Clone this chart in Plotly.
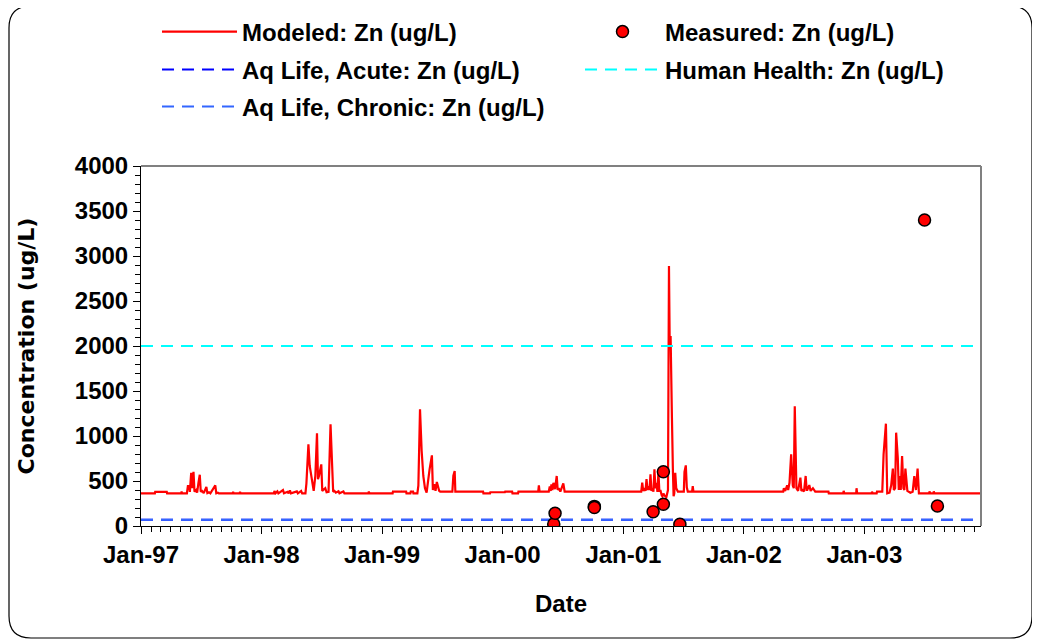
import plotly.graph_objects as go

# ---------------- data ----------------
modeled_points = [
    ("1997-01-01", 363),
    ("1997-02-12", 363), ("1997-02-13", 380), ("1997-03-20", 380), ("1997-03-21", 363),
    ("1997-05-03", 363), ("1997-05-04", 385), ("1997-05-05", 363),
    ("1997-05-20", 363), ("1997-05-23", 444), ("1997-05-27", 444), ("1997-05-29", 380),
    ("1997-06-02", 592), ("1997-06-05", 420), ("1997-06-09", 603), ("1997-06-12", 380),
    ("1997-06-17", 400), ("1997-06-20", 370), ("1997-06-24", 480), ("1997-06-28", 570),
    ("1997-07-01", 380), ("1997-07-05", 390), ("1997-07-10", 365), ("1997-07-18", 433),
    ("1997-07-21", 365), ("1997-07-26", 375), ("1997-07-30", 363), ("1997-08-14", 452),
    ("1997-08-17", 363), ("1997-08-22", 370), ("1997-08-25", 363),
    ("1997-10-06", 363), ("1997-10-07", 382), ("1997-10-08", 363),
    ("1997-10-27", 363), ("1997-10-28", 382), ("1997-10-29", 363),
    ("1998-02-08", 363), ("1998-02-09", 390), ("1998-02-12", 363), ("1998-02-18", 385),
    ("1998-02-21", 363), ("1998-03-07", 400), ("1998-03-10", 363), ("1998-03-21", 380),
    ("1998-03-24", 363), ("1998-03-28", 395), ("1998-03-31", 363), ("1998-04-18", 385),
    ("1998-04-21", 363), ("1998-05-01", 390), ("1998-05-04", 363),
    ("1998-05-14", 363), ("1998-05-17", 474), ("1998-05-23", 907), ("1998-05-27", 667),
    ("1998-06-01", 537), ("1998-06-05", 420), ("1998-06-08", 390), ("1998-06-13", 556),
    ("1998-06-18", 1030), ("1998-06-21", 520), ("1998-06-24", 556), ("1998-07-01", 685),
    ("1998-07-04", 390), ("1998-07-07", 400), ("1998-07-13", 420), ("1998-07-17", 375),
    ("1998-07-23", 380), ("1998-07-29", 1130), ("1998-08-03", 511), ("1998-08-06", 380),
    ("1998-08-10", 390), ("1998-08-14", 370), ("1998-08-22", 385), ("1998-08-25", 363),
    ("1998-09-06", 383), ("1998-09-09", 363),
    ("1998-11-21", 363), ("1998-11-22", 383), ("1998-11-24", 363),
    ("1999-02-02", 363), ("1999-02-03", 383), ("1999-03-15", 383), ("1999-03-16", 363),
    ("1999-03-28", 363), ("1999-03-29", 383), ("1999-04-05", 383), ("1999-04-06", 363),
    ("1999-04-18", 363), ("1999-04-21", 448), ("1999-04-26", 1297), ("1999-05-01", 833),
    ("1999-05-06", 556), ("1999-05-11", 420), ("1999-05-16", 370), ("1999-05-25", 630),
    ("1999-06-01", 785), ("1999-06-04", 400), ("1999-06-08", 463), ("1999-06-12", 390),
    ("1999-06-16", 489), ("1999-06-23", 390), ("1999-06-26", 383),
    ("1999-08-02", 383), ("1999-08-05", 560), ("1999-08-09", 611), ("1999-08-11", 383),
    ("1999-11-03", 383), ("1999-11-04", 363), ("1999-11-24", 363), ("1999-11-25", 375),
    ("2000-01-08", 375), ("2000-01-09", 383), ("2000-01-30", 383), ("2000-01-31", 363),
    ("2000-02-17", 363), ("2000-02-18", 383),
    ("2000-04-18", 383), ("2000-04-20", 452), ("2000-04-22", 383),
    ("2000-05-20", 383), ("2000-05-23", 440), ("2000-05-26", 390), ("2000-05-28", 463),
    ("2000-05-31", 400), ("2000-06-03", 480), ("2000-06-08", 410), ("2000-06-13", 556),
    ("2000-06-16", 400), ("2000-06-19", 420), ("2000-06-24", 383), ("2000-07-03", 474),
    ("2000-07-07", 383),
    ("2001-02-24", 383), ("2001-02-27", 481), ("2001-03-02", 390), ("2001-03-06", 420),
    ("2001-03-09", 390), ("2001-03-12", 520), ("2001-03-15", 400), ("2001-03-18", 440),
    ("2001-03-21", 400), ("2001-03-24", 574), ("2001-03-27", 390), ("2001-03-30", 420),
    ("2001-04-02", 380), ("2001-04-05", 630), ("2001-04-08", 420), ("2001-04-11", 480),
    ("2001-04-14", 380), ("2001-04-17", 600), ("2001-04-20", 380), ("2001-04-23", 400),
    ("2001-04-27", 340), ("2001-04-29", 330), ("2001-05-03", 360), ("2001-05-05", 340),
    ("2001-05-11", 320), ("2001-05-16", 400), ("2001-05-19", 2889), ("2001-05-21", 2100),
    ("2001-05-24", 2100), ("2001-05-26", 1300), ("2001-05-28", 1200), ("2001-05-31", 600),
    ("2001-06-02", 330), ("2001-06-04", 360), ("2001-06-07", 590), ("2001-06-10", 420),
    ("2001-06-15", 383),
    ("2001-07-03", 383), ("2001-07-05", 600), ("2001-07-09", 674), ("2001-07-12", 430),
    ("2001-07-15", 383), ("2001-07-28", 383), ("2001-07-30", 444), ("2001-08-01", 383),
    ("2002-04-30", 383), ("2002-05-02", 420), ("2002-05-06", 390), ("2002-05-12", 452),
    ("2002-05-15", 400), ("2002-05-19", 480), ("2002-05-24", 796), ("2002-05-29", 450),
    ("2002-06-01", 420), ("2002-06-04", 1330), ("2002-06-09", 420), ("2002-06-14", 390),
    ("2002-06-21", 537), ("2002-06-24", 390), ("2002-06-27", 400), ("2002-07-02", 385),
    ("2002-07-07", 556), ("2002-07-10", 400), ("2002-07-12", 400), ("2002-07-18", 455),
    ("2002-07-22", 390), ("2002-07-29", 420), ("2002-08-02", 390), ("2002-08-05", 383),
    ("2002-09-14", 383), ("2002-09-15", 363),
    ("2002-10-29", 363), ("2002-10-30", 390), ("2002-11-01", 363),
    ("2002-12-07", 363), ("2002-12-08", 420), ("2002-12-10", 363),
    ("2003-01-23", 363), ("2003-01-24", 380), ("2003-01-26", 363),
    ("2003-02-07", 363), ("2003-02-08", 383), ("2003-02-24", 383), ("2003-02-28", 796),
    ("2003-03-07", 1137), ("2003-03-11", 363), ("2003-03-18", 370), ("2003-03-23", 452),
    ("2003-03-28", 637), ("2003-03-31", 400), ("2003-04-04", 420), ("2003-04-07", 1037),
    ("2003-04-12", 759), ("2003-04-15", 400), ("2003-04-17", 555), ("2003-04-21", 400),
    ("2003-04-25", 778), ("2003-04-29", 420), ("2003-05-02", 400), ("2003-05-05", 637),
    ("2003-05-11", 390), ("2003-05-20", 370), ("2003-05-27", 380), ("2003-06-01", 555),
    ("2003-06-06", 400), ("2003-06-11", 637), ("2003-06-15", 363),
    ("2003-07-16", 363), ("2003-07-17", 385), ("2003-07-19", 363),
    ("2003-07-29", 363), ("2003-07-30", 385), ("2003-08-01", 363),
    ("2003-12-31", 363),
]
modeled_dates = [d for d, _ in modeled_points]
modeled_values = [v for _, v in modeled_points]

measured_dates = ["2000-06-04", "2000-06-08", "2000-10-05", "2000-10-05", "2001-04-01",
                  "2001-05-02", "2001-05-02", "2001-06-21", "2003-07-02", "2003-08-10"]
measured_values = [22, 141, 218, 205, 159, 241, 603, 19, 3400, 222]

criteria_dates = ["1997-01-01", "2003-12-31"]
acute_values = [70, 70]
chronic_values = [70, 70]
human_health_values = [2000, 2000]

x_range = ["1997-01-01", "2003-12-20"]
y_range = [0, 4000]

# ---------------- figure ----------------
FONT = "Liberation Sans, Arial, sans-serif"
OFF = 8                      # browser body margin
W, H = 1040 - OFF, 644 - OFF
# plot-area edges in page pixels
L, R, T, B = 141, 981, 166, 526

fig = go.Figure()

fig.add_trace(go.Scatter(x=modeled_dates, y=modeled_values, mode="lines",
                         name="Modeled: Zn (ug/L)", legend="legend",
                         line=dict(color="#FF0000", width=2.2)))
fig.add_trace(go.Scatter(x=criteria_dates, y=acute_values, mode="lines",
                         name="Aq Life, Acute: Zn (ug/L)", legend="legend3",
                         line=dict(color="#0000FF", width=2, dash="12px,8px")))
fig.add_trace(go.Scatter(x=criteria_dates, y=chronic_values, mode="lines",
                         name="Aq Life, Chronic: Zn (ug/L)", legend="legend5",
                         line=dict(color="#3366FF", width=2, dash="12px,8px")))
fig.add_trace(go.Scatter(x=criteria_dates, y=human_health_values, mode="lines",
                         name="Human Health: Zn (ug/L)", legend="legend4",
                         line=dict(color="#00FFFF", width=2, dash="12px,8px")))
fig.add_trace(go.Scatter(x=measured_dates, y=measured_values, mode="markers",
                         name="Measured: Zn (ug/L)", legend="legend2",
                         marker=dict(color="#FF0000", size=12,
                                     line=dict(color="#000000", width=1.5))))

def px(xp):
    return (xp - L) / (R - L)

def py(yp):
    return (B - yp) / (B - T)

legend_font = dict(family=FONT, size=24, color="#000000", weight="bold")
def leg(xpix, ypix):
    return dict(x=px(xpix), y=py(ypix), xanchor="left", yanchor="middle",
                orientation="h", itemwidth=75, font=legend_font,
                bgcolor="rgba(0,0,0,0)", borderwidth=0, itemclick=False)

axis_font = dict(family=FONT, size=24, color="#000000", weight="bold")

# rounded outer frame (page pixels)
x0, y0, x1, y1, r = 9, 6, 1032, 638, 22
path = (f"M {px(x0 + r)} {py(y0)} L {px(x1 - r)} {py(y0)} "
        f"Q {px(x1)} {py(y0)} {px(x1)} {py(y0 + r)} "
        f"L {px(x1)} {py(y1 - r)} Q {px(x1)} {py(y1)} {px(x1 - r)} {py(y1)} "
        f"L {px(x0 + r)} {py(y1)} Q {px(x0)} {py(y1)} {px(x0)} {py(y1 - r)} "
        f"L {px(x0)} {py(y0 + r)} Q {px(x0)} {py(y0)} {px(x0 + r)} {py(y0)} Z")

fig.update_layout(
    width=W, height=H,
    margin=dict(l=L - OFF, r=W - (R - OFF), t=T - OFF, b=H - (B - OFF), pad=0,
                autoexpand=False),
    paper_bgcolor="white", plot_bgcolor="white",
    showlegend=True,
    legend=leg(157, 32),
    legend2=leg(580, 32),
    legend3=leg(157, 70),
    legend4=leg(580, 70),
    legend5=leg(157, 107),
    xaxis=dict(type="date", range=x_range, tickformat="%b-%y", dtick="M12",
               tick0="1997-01-01", ticks="outside", ticklen=7, tickwidth=1,
               tickcolor="black", showline=True, linecolor="black", linewidth=1,
               showgrid=False, zeroline=False, tickfont=axis_font,
               ticklabelstandoff=0,
               minor=dict(dtick="M1", ticks="outside", ticklen=5, tickcolor="black",
                          showgrid=False),
               title=dict(text="Date", font=dict(family=FONT, size=24, color="black",
                                                 weight="bold"), standoff=28)),
    xaxis2=dict(type="date", range=x_range, overlaying="x", anchor="y", side="bottom",
                dtick="M12", tick0="1997-01-01", ticks="inside", ticklen=7,
                tickcolor="black", showticklabels=False, showgrid=False,
                zeroline=False, showline=False),
    yaxis=dict(range=y_range, dtick=500, tick0=0, ticks="outside", ticklen=7,
               tickwidth=1, tickcolor="black", showline=True, linecolor="black",
               linewidth=1, showgrid=False, zeroline=False, tickfont=axis_font,
               ticklabelstandoff=0,
               minor=dict(dtick=100, ticks="outside", ticklen=5, tickcolor="black",
                          showgrid=False),
               title=dict(text="Concentration (ug/L)",
                          font=dict(family="DejaVu Sans, Verdana, sans-serif", size=22,
                                    color="black", weight="bold"), standoff=34)),
    yaxis2=dict(range=y_range, overlaying="y", anchor="x", side="left",
                dtick=500, tick0=0, ticks="inside", ticklen=7, tickcolor="black",
                showticklabels=False, showgrid=False, zeroline=False, showline=False),
    shapes=[
        dict(type="line", xref="paper", yref="paper", x0=0, x1=1, y0=1, y1=1,
             line=dict(color="#808080", width=2)),
        dict(type="line", xref="paper", yref="paper", x0=1, x1=1, y0=0, y1=1,
             line=dict(color="#808080", width=2)),
        dict(type="path", xref="paper", yref="paper", path=path,
             line=dict(color="black", width=1.2), layer="below"),
    ],
)

fig.write_html("out.html")
